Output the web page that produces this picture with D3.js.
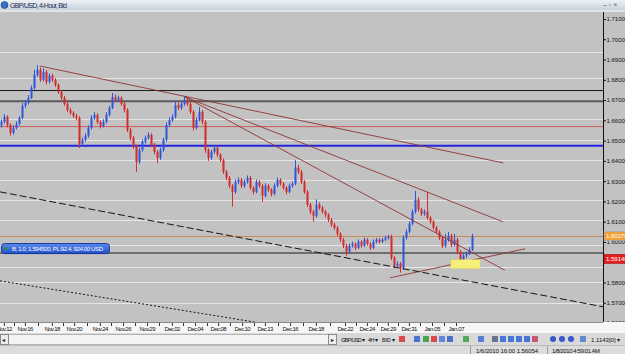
<!DOCTYPE html>
<html>
<head>
<meta charset="utf-8">
<script src="https://cdn.jsdelivr.net/npm/d3@7"></script>
<style>
  body { margin: 0; background: #d6d6d6; overflow: hidden; }
  svg { display: block; font-family: "Liberation Sans", Arial, sans-serif; }
</style>
</head>
<body>
<div id="chart"></div>
<script>
// GBP/USD 4-hour bars, Nov 12 2009 - Jan 07 2010
var firstOpen = 1.6575;
var closes = [1.6592,1.6617,1.6577,1.6538,1.6563,1.6582,1.6612,1.6671,1.6686,1.6711,
  1.6760,1.6825,1.6849,1.6800,1.6839,1.6790,1.6820,1.6800,1.6775,1.6740,
  1.6711,1.6681,1.6651,1.6637,1.6622,1.6612,1.6484,1.6504,1.6523,1.6563,
  1.6612,1.6627,1.6592,1.6573,1.6592,1.6627,1.6661,1.6715,1.6701,1.6711,
  1.6681,1.6651,1.6553,1.6514,1.6474,1.6395,1.6454,1.6494,1.6514,1.6528,
  1.6479,1.6444,1.6415,1.6454,1.6504,1.6577,1.6602,1.6617,1.6676,1.6661,
  1.6681,1.6701,1.6681,1.6642,1.6563,1.6602,1.6642,1.6592,1.6454,1.6415,
  1.6444,1.6464,1.6430,1.6405,1.6346,1.6316,1.6277,1.6247,1.6296,1.6306,
  1.6277,1.6296,1.6316,1.6267,1.6247,1.6296,1.6277,1.6228,1.6277,1.6257,
  1.6237,1.6277,1.6306,1.6287,1.6267,1.6247,1.6277,1.6287,1.6366,1.6346,
  1.6296,1.6247,1.6183,1.6149,1.6129,1.6183,1.6169,1.6149,1.6134,1.6109,
  1.6085,1.6070,1.6040,1.6011,1.5981,1.5952,1.5981,1.5991,1.5971,1.6001,
  1.5981,1.6011,1.5991,1.5971,1.6001,1.6011,1.6001,1.6011,1.6021,1.6025,
  1.5922,1.5883,1.5892,1.5873,1.6021,1.6050,1.6090,1.6149,1.6208,1.6159,
  1.6139,1.6149,1.6119,1.6100,1.6070,1.6050,1.6021,1.5981,1.6011,1.6030,
  1.5986,1.6011,1.5952,1.5912,1.5932,1.5942,1.5962,1.6027];
var highs = [1.6605,1.6630,1.6625,1.6585,1.6575,1.6595,1.6622,1.6685,1.6700,1.6725,
  1.6772,1.6850,1.6873,1.6860,1.6855,1.6848,1.6832,1.6830,1.6808,1.6782,
  1.6748,1.6720,1.6690,1.6662,1.6645,1.6632,1.6620,1.6515,1.6535,1.6575,
  1.6625,1.6640,1.6635,1.6600,1.6605,1.6640,1.6672,1.6735,1.6728,1.6722,
  1.6718,1.6690,1.6660,1.6562,1.6522,1.6480,1.6465,1.6505,1.6525,1.6540,
  1.6535,1.6488,1.6452,1.6465,1.6515,1.6590,1.6615,1.6630,1.6690,1.6688,
  1.6695,1.6720,1.6712,1.6690,1.6650,1.6615,1.6665,1.6650,1.6600,1.6462,
  1.6455,1.6478,1.6472,1.6438,1.6412,1.6355,1.6325,1.6285,1.6308,1.6318,
  1.6315,1.6308,1.6328,1.6325,1.6275,1.6308,1.6305,1.6285,1.6290,1.6285,
  1.6265,1.6288,1.6318,1.6315,1.6295,1.6275,1.6288,1.6298,1.6405,1.6380,
  1.6355,1.6305,1.6255,1.6192,1.6158,1.6210,1.6195,1.6178,1.6158,1.6142,
  1.6118,1.6095,1.6078,1.6048,1.6020,1.5990,1.5992,1.6002,1.5998,1.6012,
  1.6008,1.6022,1.6018,1.5998,1.6012,1.6020,1.6018,1.6020,1.6030,1.6035,
  1.6036,1.5930,1.5905,1.5900,1.6032,1.6062,1.6102,1.6160,1.6252,1.6220,
  1.6168,1.6160,1.6247,1.6128,1.6108,1.6078,1.6058,1.6030,1.6040,1.6050,
  1.6040,1.6040,1.6020,1.5960,1.5942,1.5952,1.5975,1.6040];
var lows = [1.6565,1.6585,1.6565,1.6525,1.6530,1.6555,1.6575,1.6605,1.6660,1.6678,
  1.6705,1.6752,1.6815,1.6790,1.6792,1.6778,1.6782,1.6790,1.6765,1.6730,
  1.6700,1.6672,1.6640,1.6628,1.6612,1.6600,1.6464,1.6472,1.6495,1.6515,
  1.6555,1.6602,1.6582,1.6560,1.6565,1.6585,1.6620,1.6655,1.6690,1.6692,
  1.6672,1.6640,1.6542,1.6500,1.6460,1.6346,1.6385,1.6445,1.6485,1.6505,
  1.6470,1.6432,1.6390,1.6405,1.6445,1.6495,1.6568,1.6592,1.6610,1.6650,
  1.6652,1.6672,1.6670,1.6632,1.6550,1.6555,1.6595,1.6580,1.6440,1.6400,
  1.6405,1.6435,1.6420,1.6395,1.6335,1.6305,1.6265,1.6174,1.6238,1.6285,
  1.6265,1.6268,1.6288,1.6258,1.6235,1.6240,1.6268,1.6198,1.6220,1.6248,
  1.6225,1.6230,1.6270,1.6278,1.6258,1.6235,1.6240,1.6268,1.6280,1.6335,
  1.6285,1.6238,1.6172,1.6138,1.6100,1.6120,1.6158,1.6140,1.6122,1.6098,
  1.6075,1.6060,1.6030,1.6000,1.5970,1.5932,1.5945,1.5972,1.5960,1.5965,
  1.5972,1.5975,1.5982,1.5960,1.5965,1.5992,1.5992,1.5995,1.6004,1.6012,
  1.5910,1.5870,1.5875,1.5848,1.5862,1.6012,1.6042,1.6082,1.6140,1.6150,
  1.6128,1.6130,1.6110,1.6090,1.6060,1.6040,1.6010,1.5970,1.5972,1.6002,
  1.5975,1.5978,1.5940,1.5893,1.5902,1.5920,1.5935,1.5955];

var dateLabels = ["Nov.12","Nov.16","Nov.18","Nov.20","Nov.24","Nov.26","Nov.29","Dec.02","Dec.04","Dec.08",
  "Dec.10","Dec.13","Dec.16","Dec.18","Dec.22","Dec.24","Dec.29","Dec.31","Jan.05","Jan.07"];
var dateLabelBars = [0.8,7.8,16.8,24.2,32.8,40.5,48.5,56.8,64.5,72.2,80.2,87.8,96.2,104.8,114.5,121.8,128.8,135.8,143.5,151.5];

var priceTicks = [1.56,1.57,1.58,1.59,1.60,1.61,1.62,1.63,1.64,1.65,1.66,1.67,1.68,1.69,1.70,1.71];
var gridPrices = [1.6939,1.6808,1.6607,1.6504,1.6405,1.6306,1.6208,1.6109,1.5986,1.5878,1.5803,1.5700];
var levelPrices = [1.6747,1.6694,1.6569,1.6474,1.6027,1.5945];

// trend lines as [bar, price] pairs
var trendLines = [
  [[12.8,1.6868],[167.2,1.6390]],
  [[61.2,1.6715],[167.2,1.6099]],
  [[61.2,1.6715],[167.8,1.5860]],
  [[129.5,1.5823],[174.5,1.5966]]
];
var dashLine = [[-0.5,1.6247],[200.5,1.5680]];
var dotLine = [[-0.5,1.5808],[91.8,1.5587]];
var highlightBars = [149.8,159.5];
var highlightPrices = [1.5912,1.5868];

var lastPrice = 1.6027, bidPrice = 1.5914;
var positionText = "B, 1.0, 1.594500, PL:92.4, 924.00 USD";
var titleText = "GBP/USD, 4-Hour, Bid";

var W = 625, H = 354;
var plotL = 0, plotR = 603, plotT = 12, plotB = 322;
var FONT = "'Liberation Sans', Arial, sans-serif";

var svg = d3.select("#chart").append("svg")
  .attr("width", W).attr("height", H);

var defs = svg.append("defs");
defs.append("clipPath").attr("id", "plot")
  .append("rect").attr("x", plotL).attr("y", plotT)
  .attr("width", plotR - plotL).attr("height", plotB - plotT);
var tg = defs.append("linearGradient").attr("id", "titleGrad")
  .attr("x1", 0).attr("y1", 0).attr("x2", 0).attr("y2", 1);
tg.append("stop").attr("offset", "0%").attr("stop-color", "#eef2f6");
tg.append("stop").attr("offset", "100%").attr("stop-color", "#c9d2dc");
var bg = defs.append("linearGradient").attr("id", "posGrad")
  .attr("x1", 0).attr("y1", 0).attr("x2", 0).attr("y2", 1);
bg.append("stop").attr("offset", "0%").attr("stop-color", "#5d8cf0");
bg.append("stop").attr("offset", "100%").attr("stop-color", "#1f4fc8");

var x = d3.scaleLinear().domain([0, closes.length - 1]).range([1.5, 472.5]);
var y = d3.scaleLinear().domain([1.56, 1.71]).range([323, 19]);

// window frame
svg.append("rect").attr("width", W).attr("height", H).attr("fill", "#d6d6d6");
svg.append("rect").attr("x", 0).attr("y", 0).attr("width", W).attr("height", 10)
  .attr("fill", "url(#titleGrad)");
svg.append("rect").attr("x", 0).attr("y", 10).attr("width", W).attr("height", 2)
  .attr("fill", "#e2e2e2");
svg.append("circle").attr("cx", 4.5).attr("cy", 5).attr("r", 3.5)
  .attr("fill", "#3a6fc8").attr("stroke", "#1c3f80").attr("stroke-width", 0.6);
svg.append("text").attr("x", 10).attr("y", 8).attr("font-size", 7)
  .attr("fill", "#1b2b55").attr("textLength", 57).text(titleText);
svg.append("text").attr("x", 603).attr("y", 7).attr("font-size", 7)
  .attr("fill", "#666").text("–  ▫  ×");

// plot background
svg.append("rect").attr("x", plotL).attr("y", plotT)
  .attr("width", W - plotL).attr("height", plotB - plotT).attr("fill", "#c2c2c2");

var plot = svg.append("g").attr("clip-path", "url(#plot)");

plot.selectAll(".grid").data(gridPrices).enter().append("line")
  .attr("class", "grid")
  .attr("x1", plotL).attr("x2", plotR)
  .attr("y1", function(d) { return Math.round(y(d)) + 0.5; })
  .attr("y2", function(d) { return Math.round(y(d)) + 0.5; })
  .attr("stroke", "#e6e6e6").attr("stroke-width", 1);

var levelColors = ["#1a1a1a", "#5a5a5a", "#d05a5a", "#2323e0", "#c98a55", "#6e6e6e"];
var levelWidths = [1, 2, 1, 2, 1, 2];
plot.selectAll(".level").data(levelPrices).enter().append("line")
  .attr("class", "level")
  .attr("x1", plotL).attr("x2", plotR)
  .attr("y1", function(d) { return y(d); })
  .attr("y2", function(d) { return y(d); })
  .attr("stroke", function(d, i) { return levelColors[i]; })
  .attr("stroke-width", function(d, i) { return levelWidths[i]; });

// candles
var bars = closes.map(function(c, i) {
  return { i: i, o: i ? closes[i - 1] : firstOpen, h: highs[i], l: lows[i], c: c };
});
var upCol = "#2f55dc", downCol = "#d42b2b";
var candle = plot.selectAll(".candle").data(bars).enter().append("g").attr("class", "candle");
candle.append("line")
  .attr("x1", function(d) { return Math.floor(x(d.i)) + 0.5; })
  .attr("x2", function(d) { return Math.floor(x(d.i)) + 0.5; })
  .attr("y1", function(d) { return y(d.h); })
  .attr("y2", function(d) { return y(d.l); })
  .attr("stroke", function(d) { return d.c >= d.o ? upCol : downCol; })
  .attr("stroke-width", 1);
candle.append("rect")
  .attr("x", function(d) { return Math.floor(x(d.i)) - 0.5; })
  .attr("width", 2)
  .attr("y", function(d) { return y(Math.max(d.o, d.c)); })
  .attr("height", function(d) { return Math.max(1, Math.abs(y(d.o) - y(d.c))); })
  .attr("fill", function(d) { return d.c >= d.o ? upCol : downCol; });

// drawn lines
var lineGen = d3.line().x(function(p) { return x(p[0]); }).y(function(p) { return y(p[1]); });
plot.selectAll(".trend").data(trendLines).enter().append("path")
  .attr("class", "trend")
  .attr("d", lineGen)
  .attr("fill", "none").attr("stroke", "#8e3434").attr("stroke-width", 0.9);
plot.append("path").attr("d", lineGen(dashLine))
  .attr("fill", "none").attr("stroke", "#151515").attr("stroke-width", 1)
  .attr("stroke-dasharray", "7,3");
plot.append("path").attr("d", lineGen(dotLine))
  .attr("fill", "none").attr("stroke", "#151515").attr("stroke-width", 1)
  .attr("stroke-dasharray", "2,2");

plot.append("rect")
  .attr("x", x(highlightBars[0])).attr("width", x(highlightBars[1]) - x(highlightBars[0]))
  .attr("y", y(highlightPrices[0])).attr("height", y(highlightPrices[1]) - y(highlightPrices[0]))
  .attr("fill", "#f6f07a").attr("stroke", "#d8d060").attr("stroke-width", 0.5);

// open position tag
var posY = y(1.5945);
plot.append("rect").attr("x", 1.5).attr("y", posY - 9.5).attr("width", 108).attr("height", 10)
  .attr("rx", 3).attr("fill", "url(#posGrad)").attr("stroke", "#17389a").attr("stroke-width", 1);
plot.append("circle").attr("cx", 6).attr("cy", posY - 4.5).attr("r", 1.8).attr("fill", "#2e8a4a");
plot.append("text").attr("x", 12).attr("y", posY - 2).attr("font-size", 6)
  .attr("fill", "#ffffff").attr("textLength", 91).text(positionText);

// right price axis
var tags = [lastPrice, bidPrice];
var yAxis = d3.axisRight(y).tickValues(priceTicks).tickSize(3).tickSizeOuter(0)
  .tickFormat(function(d) { return d.toFixed(4); });
var ya = svg.append("g").attr("transform", "translate(" + plotR + ",0)").call(yAxis);
ya.select(".domain").remove();
ya.selectAll(".tick line").attr("stroke", "#111");
ya.selectAll(".tick text").attr("x", 3.5).attr("font-size", 6).attr("fill", "#111")
  .attr("font-family", FONT)
  .attr("display", function(d) {
    return tags.some(function(t) { return Math.abs(y(t) - y(d)) < 4; }) ? "none" : null;
  })
  .append("tspan").attr("font-size", 5).text("0");
svg.append("line").attr("x1", plotR + 0.5).attr("x2", plotR + 0.5)
  .attr("y1", plotT).attr("y2", plotB + 6).attr("stroke", "#111");

var tagColors = ["#f0a038", "#e21f1f"];
var tag = svg.selectAll(".ptag").data(tags).enter().append("g").attr("class", "ptag");
tag.append("rect").attr("x", plotR + 1).attr("width", W - plotR)
  .attr("y", function(d) { return y(d) - 5; }).attr("height", 9)
  .attr("fill", function(d, i) { return tagColors[i]; })
  .attr("stroke", function(d, i) { return i ? "#b01010" : "#8fb0e0"; }).attr("stroke-width", 0.6);
tag.append("text").attr("x", plotR + 3)
  .attr("y", function(d) { return y(d) + 2; })
  .attr("font-size", 6).attr("fill", "#fff")
  .text(function(d) { return d.toFixed(4); })
  .append("tspan").attr("font-size", 5).text("0");

// date axis
svg.append("rect").attr("x", 0).attr("y", plotB).attr("width", W).attr("height", 11).attr("fill", "#f6f6f6");
svg.append("line").attr("x1", 0).attr("x2", plotR).attr("y1", plotB + 0.5).attr("y2", plotB + 0.5)
  .attr("stroke", "#8a8a8a");
var minorBars = dateLabelBars.slice(1).map(function(d, i) { return (d + dateLabelBars[i]) / 2; });
svg.selectAll(".minor").data(minorBars).enter().append("line")
  .attr("x1", function(d) { return Math.round(x(d)) + 0.5; })
  .attr("x2", function(d) { return Math.round(x(d)) + 0.5; })
  .attr("y1", plotB + 1).attr("y2", plotB + 4).attr("stroke", "#333");
var xAxis = d3.axisBottom(x).tickValues(dateLabelBars).tickSize(3).tickSizeOuter(0)
  .tickFormat(function(d, i) { return dateLabels[i]; });
var xa = svg.append("g").attr("transform", "translate(0," + (plotB + 1) + ")").call(xAxis);
xa.select(".domain").remove();
xa.selectAll(".tick line").attr("stroke", "#333");
xa.selectAll(".tick text").attr("y", 4).attr("dy", "0.71em").attr("font-size", 6)
  .attr("fill", "#111").attr("font-family", FONT).attr("textLength", 16);

// scrollbar + toolbar row
svg.append("rect").attr("x", 0).attr("y", 333).attr("width", W).attr("height", 12).attr("fill", "#d9d9d9");
svg.append("rect").attr("x", 8.5).attr("y", 334.5).attr("width", 320).attr("height", 10)
  .attr("fill", "#f3f3f3").attr("stroke", "#b5b5b5");
svg.append("rect").attr("x", 0.5).attr("y", 334.5).attr("width", 8).attr("height", 10)
  .attr("fill", "#ececec").attr("stroke", "#8a8a8a");
svg.append("text").attr("x", 2).attr("y", 342).attr("font-size", 6).attr("fill", "#222").text("◂");
svg.append("rect").attr("x", 328.5).attr("y", 334.5).attr("width", 8).attr("height", 10)
  .attr("fill", "#ececec").attr("stroke", "#8a8a8a");
svg.append("text").attr("x", 330.5).attr("y", 342).attr("font-size", 6).attr("fill", "#222").text("▸");

var tbText = [["GBP/USD ▾", 341, 24], ["4H ▾", 368, 10], ["BID ▾", 382, 13]];
svg.selectAll(".tbt").data(tbText).enter().append("text")
  .attr("x", function(d) { return d[1]; }).attr("y", 342).attr("font-size", 5.5)
  .attr("textLength", function(d) { return d[2]; })
  .attr("fill", "#111").text(function(d) { return d[0]; });
svg.append("text").attr("x", 591).attr("y", 342).attr("font-size", 6).attr("fill", "#111")
  .text("1.1143[0] ▾");

var iconX = [399, 414, 423, 431, 439, 447, 463, 478, 492, 500, 508, 516, 524, 532, 550, 559, 568, 580];
var iconCols = ["#d83030", "#3060d0", "#2e9a3a", "#d83030", "#4a78d8", "#2f5fc0", "#3aa040", "#3a70d0",
  "#506080", "#3060d8", "#3060d8", "#3060d8", "#3060d8", "#c04060", "#2040c8", "#2040c8", "#2040c8", "#4a7ad0"];
svg.selectAll(".icon").data(iconX).enter().append("rect")
  .attr("x", function(d) { return d; }).attr("y", 336).attr("width", 6).attr("height", 6)
  .attr("rx", function(d, i) { return i >= 14 && i <= 16 ? 3 : 0.5; })
  .attr("fill", function(d, i) { return iconCols[i]; })
  .attr("opacity", 0.85);

// status bar
svg.append("rect").attr("x", 0).attr("y", 345).attr("width", W).attr("height", 9).attr("fill", "#dcdcdc");
svg.append("line").attr("x1", 0).attr("x2", W).attr("y1", 345.5).attr("y2", 345.5).attr("stroke", "#bcbcbc");
[470.5, 547.5].forEach(function(sx) {
  svg.append("line").attr("x1", sx).attr("x2", sx).attr("y1", 346).attr("y2", 354).attr("stroke", "#9a9a9a");
});
svg.append("text").attr("x", 476).attr("y", 352.5).attr("font-size", 6).attr("fill", "#111")
  .attr("textLength", 62).text("1/6/2010 16:00  1.56054");
svg.append("text").attr("x", 552).attr("y", 352.5).attr("font-size", 6).attr("fill", "#111")
  .attr("textLength", 48).text("1/8/2010 4:59:01 AM");
</script>
</body>
</html>
